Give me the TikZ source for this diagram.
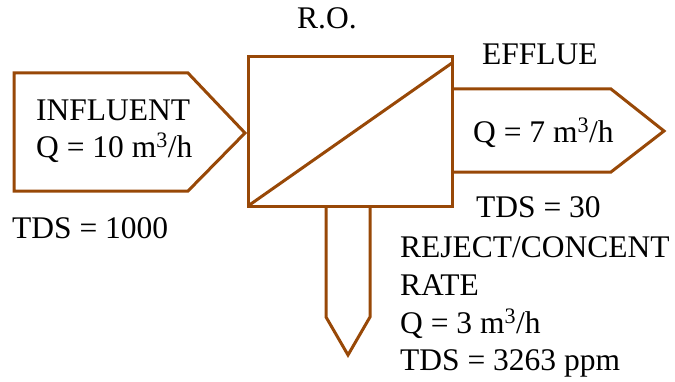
\documentclass[tikz,border=0pt]{standalone}
\usepackage{fontspec}
\setmainfont{Liberation Serif}
\definecolor{robrown}{RGB}{152,72,7}
\begin{document}
\begin{tikzpicture}[x=1pt,y=1pt,
  shapeline/.style={draw=robrown,line width=3pt,line join=miter},
  lbl/.style={anchor=base west,inner sep=0pt,font=\fontsize{31.5}{37.8}\selectfont}]
\useasboundingbox (0,0) rectangle (675,381);
% influent arrow
\draw[shapeline] (14,308) -- (188,308) -- (245,248) -- (188,190) -- (14,190) -- cycle;
% R.O. box
\coordinate (boxsw) at (248,175);
\coordinate (boxne) at (452,324);
\draw[shapeline] (boxsw) rectangle (boxne);
\draw[shapeline] (boxsw) -- (452,318);
% effluent arrow
\draw[shapeline] (452,292) -- (611,292) -- (664,250) -- (611,209) -- (452,209);
% reject arrow
\draw[shapeline] (326,175) -- (326,64) -- (348,26) -- (370,64) -- (370,175);
% texts
\node[lbl] (ro) at (297,352) {R.O.};
\node[lbl] (inf1) at (36,260) {INFLUENT};
\node[lbl] (inf2) at (36,224) {Q = 10 m\textsuperscript{3}/h};
\node[lbl] (tdsin) at (12,143) {TDS = 1000};
\node[lbl] (eff1) at (482,316) {EFFLUE};
\node[lbl] (eff2) at (473,239) {Q = 7 m\textsuperscript{3}/h};
\node[lbl] (tdseff) at (476,164) {TDS = 30};
\node[lbl] (rej1) at (400,124) {REJECT/CONCENT};
\node[lbl] (rej2) at (400,86) {RATE};
\node[lbl] (rej3) at (400,48) {Q = 3 m\textsuperscript{3}/h};
\node[lbl] (rej4) at (400,11) {TDS = 3263 ppm};
\end{tikzpicture}
\end{document}
